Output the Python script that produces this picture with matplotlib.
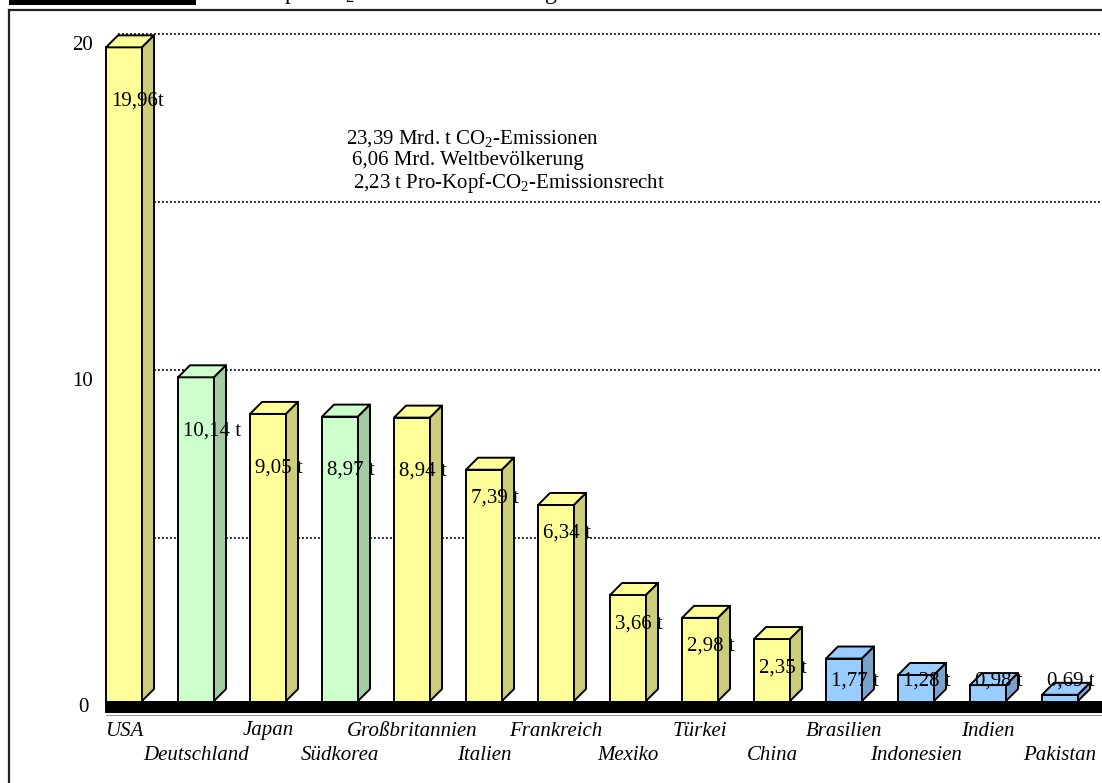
import numpy as np
import matplotlib.pyplot as plt
from matplotlib.patches import Polygon, Rectangle
from matplotlib.lines import Line2D

# Pro-Kopf-CO2-Emissionen in t
laender = ["USA", "Deutschland", "Japan", "Südkorea", "Großbritannien", "Italien",
           "Frankreich", "Mexiko", "Türkei", "China", "Brasilien", "Indonesien",
           "Indien", "Pakistan"]
pro_kopf = [19.96, 10.14, 9.05, 8.97, 8.94, 7.39, 6.34, 3.66, 2.98, 2.35,
            1.77, 1.28, 0.98, 0.69]
hervorgehoben = ["Deutschland", "Südkorea"]

emissionen_gesamt = 23.39   # Mrd. t
weltbevoelkerung = 6.06     # Mrd.
emissionsrecht = 2.23       # t pro Kopf

y_ticks = [0, 10, 20]
gitter = [5, 10, 15, 20]

farben = {
    "gelb": ("#FFFF99", "#CCCC7A"),
    "gruen": ("#CCFFCC", "#A3CCA3"),
    "blau": ("#99CCFF", "#7AA3CC"),
}

plt.rcParams["font.family"] = "Liberation Serif"
plt.rcParams["mathtext.fontset"] = "custom"
plt.rcParams["mathtext.rm"] = "Liberation Serif"
plt.rcParams["mathtext.it"] = "Liberation Serif:italic"
plt.rcParams["font.size"] = 15

W, H = 1102, 783
fig = plt.figure(figsize=(W / 100, H / 100), dpi=100)
ax = fig.add_axes([0, 0, 1, 1])

# 72 px per Land, 33.6 px pro Tonne, Nulllinie vorne bei Zeile 718
step, scale, x_first, y_null = 72.0, 33.6, 124.0, 718.0
ax.set_xlim(-x_first / step, (W - x_first) / step)
ax.set_ylim(-(H - y_null) / scale, y_null / scale)
ax.axis("off")


def pix(px, py):
    return (px - x_first) / step, (y_null - py) / scale


dx, dy = 12 / step, 12 / scale       # Tiefe der Säulen
breite = 0.5
boden_oben = pix(0, 701)[1]
boden_unten = pix(0, 713)[1]
x_rechts = ax.get_xlim()[1]

x = np.arange(len(laender))

# Gitterlinien auf der Rückwand
for g in gitter:
    ax.plot([x[0] - breite / 2 + dx, x_rechts], [g + dy, g + dy], color="black",
            lw=1.2, linestyle=(0, (1.1, 1.3)), zorder=1)

front, seite = [], []
for name, v in zip(laender, pro_kopf):
    if v < emissionsrecht:
        key = "blau"
    elif name in hervorgehoben:
        key = "gruen"
    else:
        key = "gelb"
    front.append(farben[key][0])
    seite.append(farben[key][1])

ax.bar(x, pro_kopf, width=breite, color=front, edgecolor="black", linewidth=1.4, zorder=3)

for xi, v, fc, sc in zip(x, pro_kopf, front, seite):
    x0, x1 = xi - breite / 2, xi + breite / 2
    oben = Polygon([(x0, v), (x0 + dx, v + dy), (x1 + dx, v + dy), (x1, v)],
                   closed=True, facecolor=fc, edgecolor="black", lw=1.4, zorder=3,
                   joinstyle="round")
    rechts = Polygon([(x1, boden_oben), (x1, v), (x1 + dx, v + dy), (x1 + dx, boden_oben + dy)],
                     closed=True, facecolor=sc, edgecolor="black", lw=1.4, zorder=3,
                     joinstyle="round")
    ax.add_patch(oben)
    ax.add_patch(rechts)

# Boden
x_boden = x[0] - breite / 2
ax.add_patch(Rectangle((x_boden, boden_unten), x_rechts - x_boden, boden_oben - boden_unten,
                       facecolor="black", edgecolor="none", zorder=4))
ax.add_patch(Rectangle((x_boden - 0.1, -1.0), x_rechts - x_boden + 0.2, boden_unten + 1.0,
                       facecolor="white", edgecolor="none", zorder=4))
ax.plot([x_boden, x_rechts], [pix(0, 715)[1]] * 2, color="#999999", lw=0.8, zorder=4)

# Werte an den Säulen
for i, (xi, v) in enumerate(zip(x, pro_kopf)):
    wert = f"{v:.2f}".replace(".", ",")
    text = f"{wert}t" if i == 0 else f"{wert} t"
    abstand = 1.6 if v > 8 else 0.85
    ty = max(v - abstand, pix(0, 681)[1])
    ax.text(xi - breite / 2 + 5 / step, ty, text, ha="left", va="center", zorder=6)

# y-Beschriftung
for t in y_ticks:
    ty = t if t > 0 else (boden_oben + boden_unten) / 2
    ax.text(pix(83, 0)[0], ty, str(t), ha="center", va="center", zorder=6)

# Länder in zwei Reihen
for i, (xi, name) in enumerate(zip(x, laender)):
    zeile = 731 if i % 2 == 0 else 755
    ax.text(xi, pix(0, zeile)[1], name, ha="center", va="center",
            style="italic", zorder=6)

# Kennzahlen
kennzahlen = [
    (346, 139, f"{emissionen_gesamt:.2f}".replace(".", ",") + r" Mrd. t CO$_2$-Emissionen"),
    (352, 161, f"{weltbevoelkerung:.2f}".replace(".", ",") + " Mrd. Weltbevölkerung"),
    (353, 183, f"{emissionsrecht:.2f}".replace(".", ",") + r" t Pro-Kopf-CO$_2$-Emissionsrecht"),
]
for px, py, s in kennzahlen:
    tx, ty = pix(px, py)
    ax.text(tx, ty, s, ha="left", va="center", zorder=6)

# Rahmen
rahmen = dict(transform=fig.transFigure, color="#222222", lw=1.6)
fig.add_artist(Line2D([9 / W, 1], [1 - 10 / H, 1 - 10 / H], **rahmen))
fig.add_artist(Line2D([9 / W, 9 / W], [0, 1 - 10 / H], **rahmen))

# Überschrift (oben abgeschnitten)
fig.add_artist(Rectangle((9 / W, 1 - 5 / H), 187 / W, 5 / H, transform=fig.transFigure,
                         facecolor="black", edgecolor="none"))
fig.text(215 / W, 1 + 0.5 / H, r"Pro-Kopf-CO$_2$-Emissionen im Vergleich",
         ha="left", va="baseline", fontsize=17)

fig.savefig("out.png", dpi=100)
